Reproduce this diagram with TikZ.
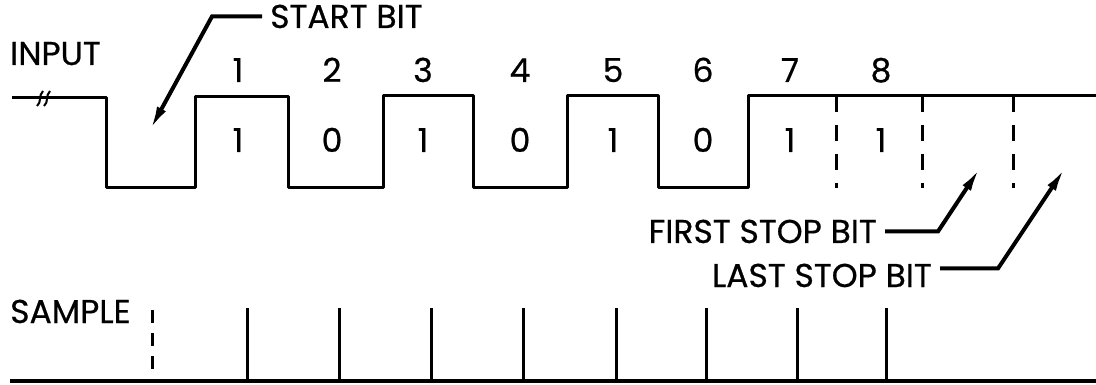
\documentclass[tikz,border=0pt]{standalone}
\usepackage{fontspec}
\setmainfont{Poppins}[FakeBold=0.6]
\usetikzlibrary{arrows.meta}

\tikzset{
    lbl/.style={font=\fontsize{33}{36}\selectfont, inner sep=0pt},
    wave/.style={line width=3pt, line join=round},
    pulse/.style={line width=3pt},
    dashbar/.style={line width=3pt, dash pattern=on 16pt off 13pt},
    leader/.style={line width=4pt, shorten <=8pt, -{Latex[length=24pt,width=10pt]}},
}

\begin{document}
\begin{tikzpicture}[x=1pt, y=-1pt]
    \useasboundingbox (0,0) rectangle (1096,385);
    % input line
    \node[lbl, anchor=base west] (input) at (10,65) {INPUT};
    \draw[wave] (12,98) -- (106,98) -- (106,188) -- (195,188) -- (195,97)
        -- (288,97) -- (288,188) -- (383,188) -- (383,96) -- (473,96)
        -- (473,188) -- (567,188) -- (567,96) -- (658,96) -- (658,188)
        -- (748,188) -- (748,96) -- (1096,96);
    \draw[line width=2pt] (37,106) .. controls (42,102) and (38,96) .. (43,91);
    \draw[line width=2pt] (44,106) .. controls (49,102) and (45,96) .. (50,91);
    \foreach \x in {836,922,1013}
        \draw[dashbar] (\x,96) -- (\x,188);
    \foreach[count=\i] \x/\bit in {238/1,332/0,423/1,520/0,613/1,703/0,790/1,881/1} {
        \node[lbl, anchor=base] (n-\i) at (\x,82) {\i};
        \node[lbl, anchor=base] (b-\i) at (\x,152) {\bit};
    }
    % start and stop bits
    \node[lbl, anchor=base west] (start) at (270,28) {START BIT};
    \coordinate (start-tip) at (150,130);
    \draw[leader] (start.west) -- ++(-58,0) -- (start-tip);
    \node[lbl, anchor=base east] (first) at (877,243) {FIRST STOP BIT};
    \coordinate (first-tip) at (980,168);
    \draw[leader] (first.east) -- ++(61,0) -- (first-tip);
    \node[lbl, anchor=base east] (last) at (932,287) {LAST STOP BIT};
    \coordinate (last-tip) at (1065,168);
    \draw[leader] ([yshift=7pt]last.east) -- ++(66,0) -- (last-tip);
    % sample line
    \node[lbl, anchor=base west] (sample) at (10,323) {SAMPLE};
    \draw[wave, line width=3.5pt] (10,381) -- (1096,381);
    \draw[dashbar, dash pattern=on 13pt off 10pt] (152,310) -- (152,381);
    \foreach \x in {247,339,431,523,616,706,797,886}
        \draw[pulse] (\x,308) -- (\x,381);
\end{tikzpicture}
\end{document}
